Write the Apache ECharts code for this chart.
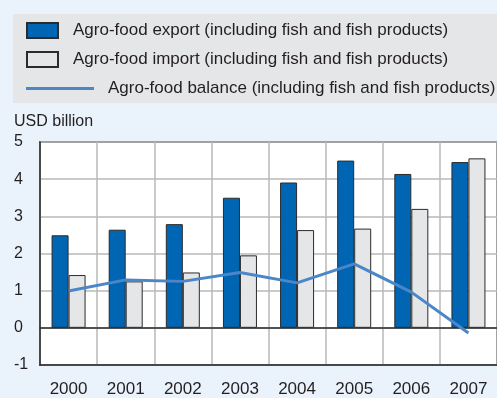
<!DOCTYPE html>
<html>
<head>
<meta charset="utf-8">
<script src="https://cdn.jsdelivr.net/npm/echarts@6/dist/echarts.min.js"></script>
<style>
  html, body { margin: 0; padding: 0; background: #eaf3fc; }
  #chart { width: 497px; height: 398px; }
</style>
</head>
<body>
<div id="chart"></div>
<script>
const years = ['2000', '2001', '2002', '2003', '2004', '2005', '2006', '2007']
const exportValues = [2.49, 2.64, 2.79, 3.50, 3.91, 4.50, 4.14, 4.46]
const importValues = [1.42, 1.25, 1.49, 1.95, 2.63, 2.67, 3.20, 4.56]
const balanceValues = [0.99, 1.29, 1.25, 1.49, 1.21, 1.72, 0.96, -0.14]

const exportName = 'Agro-food export (including fish and fish products)'
const importName = 'Agro-food import (including fish and fish products)'
const balanceName = 'Agro-food balance (including fish and fish products)'

const font = "'Liberation Sans', Arial, sans-serif"
const textColor = '#231f20'

let chart = echarts.init(document.getElementById('chart'))

let option = {
  backgroundColor: '#eaf3fc',
  animation: false,
  graphic: [
    {
      type: 'rect',
      shape: { x: 13, y: 14, width: 500, height: 89 },
      style: { fill: '#e5e6e8' },
      z: -1
    },
    {
      type: 'text',
      left: 14,
      top: 114,
      style: {
        text: 'USD billion',
        fill: textColor,
        fontSize: 16,
        fontFamily: font
      }
    }
  ],
  legend: [
    {
      left: 26,
      top: 22,
      padding: 0,
      orient: 'vertical',
      itemGap: 12,
      itemWidth: 31,
      itemHeight: 15,
      icon: 'rect',
      data: [exportName, importName],
      textStyle: {
        color: textColor,
        fontSize: 17,
        fontFamily: font,
        padding: [0, 0, 0, 10]
      }
    },
    {
      left: 26,
      top: 80,
      padding: 0,
      itemWidth: 68,
      itemHeight: 3,
      icon: 'rect',
      data: [balanceName],
      textStyle: {
        color: textColor,
        fontSize: 17,
        fontFamily: font,
        padding: [0, 0, 0, 9]
      }
    }
  ],
  grid: {
    left: 40,
    right: -4,
    top: 142,
    bottom: 30,
    show: true,
    backgroundColor: '#ffffff',
    borderColor: '#2b2b2b',
    borderWidth: 1.5
  },
  xAxis: [
    {
      type: 'category',
      data: years,
      axisLine: { onZero: false, lineStyle: { color: '#2b2b2b', width: 1.5 } },
      axisTick: { show: false },
      splitLine: { show: true, lineStyle: { color: '#b8b8b8', width: 1.5 } },
      axisLabel: {
        color: textColor,
        fontSize: 17,
        fontFamily: font,
        margin: 16
      }
    },
    {
      type: 'category',
      data: years,
      position: 'bottom',
      axisLine: { onZero: true, lineStyle: { color: '#2b2b2b', width: 1.5 } },
      axisTick: { show: false },
      axisLabel: { show: false },
      splitLine: { show: false }
    }
  ],
  yAxis: {
    type: 'value',
    min: -1,
    max: 5,
    interval: 1,
    axisLine: { show: true, lineStyle: { color: '#2b2b2b', width: 1.5 } },
    axisTick: { show: false },
    splitLine: { lineStyle: { color: '#b8b8b8', width: 1.5 } },
    axisLabel: {
      color: textColor,
      fontSize: 16,
      fontFamily: font,
      align: 'left',
      margin: 26
    }
  },
  series: [
    {
      name: exportName,
      type: 'bar',
      data: exportValues,
      barWidth: 17,
      barGap: '0%',
      itemStyle: { color: '#0066b3', borderColor: '#2b2b2b', borderWidth: 1 }
    },
    {
      name: importName,
      type: 'bar',
      data: importValues,
      barWidth: 17,
      barGap: '0%',
      itemStyle: { color: '#e5e6e8', borderColor: '#2b2b2b', borderWidth: 1 }
    },
    {
      name: balanceName,
      type: 'line',
      data: balanceValues,
      showSymbol: false,
      symbol: 'none',
      z: 5,
      lineStyle: { color: '#4a86c8', width: 3 },
      itemStyle: { color: '#4a86c8' }
    }
  ]
}

chart.setOption(option)
</script>
</body>
</html>
